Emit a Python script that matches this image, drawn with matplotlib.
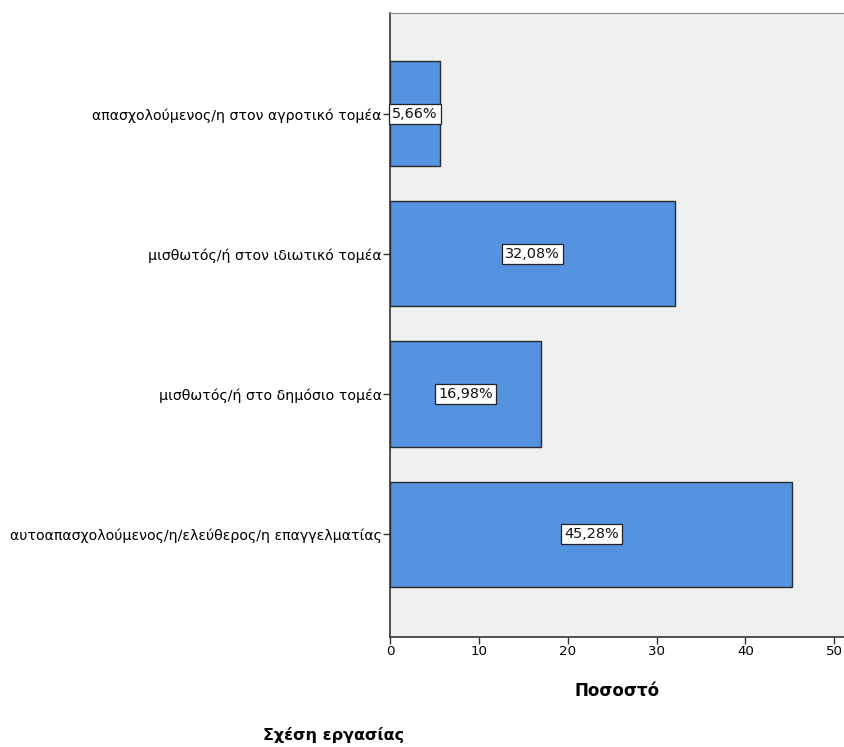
import matplotlib
matplotlib.use("Agg")
import matplotlib.pyplot as plt

categories = [
    "αυτοαπασχολούμενος/η/ελεύθερος/η επαγγελματίας",
    "μισθωτός/ή στο δημόσιο τομέα",
    "μισθωτός/ή στον ιδιωτικό τομέα",
    "απασχολούμενος/η στον αγροτικό τομέα",
]
percentages = [45.28, 16.98, 32.08, 5.66]
xticks = [0, 10, 20, 30, 40, 50]

plt.rcParams['font.family'] = ['DejaVu Sans']

fig = plt.figure(figsize=(8.45, 7.47), dpi=100)
ax = fig.add_axes([390/845, 1 - 637/747, 1 - 390/845, (637 - 13)/747])
ax.set_facecolor('#f0f0f0')

ypos = list(range(len(categories)))
ax.barh(ypos, percentages, height=0.75, color='#5592e0', edgecolor='#2b2b2b', linewidth=1.0, zorder=2)

for y, v in zip(ypos, percentages):
    ax.text(v / 2, y, f"{v:.2f}%".replace('.', ','), ha='center', va='center', fontsize=10.4,
            color='#111111',
            bbox=dict(boxstyle='square,pad=0.22', facecolor='white', edgecolor='#222222', linewidth=0.9),
            zorder=3)

ax.set_xlim(0, 51.2)
ax.set_ylim(-0.735, 3.72)
ax.set_xticks(xticks)
ax.set_xticklabels([str(t) for t in xticks], fontsize=9.6)
ax.set_yticks(ypos)
ax.set_yticklabels(categories, fontsize=10.2)
ax.tick_params(axis='y', direction='out', length=5, width=1, color='#333333', pad=1)
ax.tick_params(axis='x', direction='out', length=5, width=1, color='#333333', pad=1)

for side in ['left', 'bottom']:
    ax.spines[side].set_color('#333333')
    ax.spines[side].set_linewidth(1.2)
ax.spines['top'].set_color('#888888')
ax.spines['right'].set_visible(False)

ax.set_xlabel("Ποσοστό", fontsize=12, fontweight='bold', labelpad=17)
fig.text(334/845, 1 - 735/747, "Σχέση εργασίας", ha='center', va='center', fontsize=11.5, fontweight='bold')

fig.savefig("out.png", dpi=100)
